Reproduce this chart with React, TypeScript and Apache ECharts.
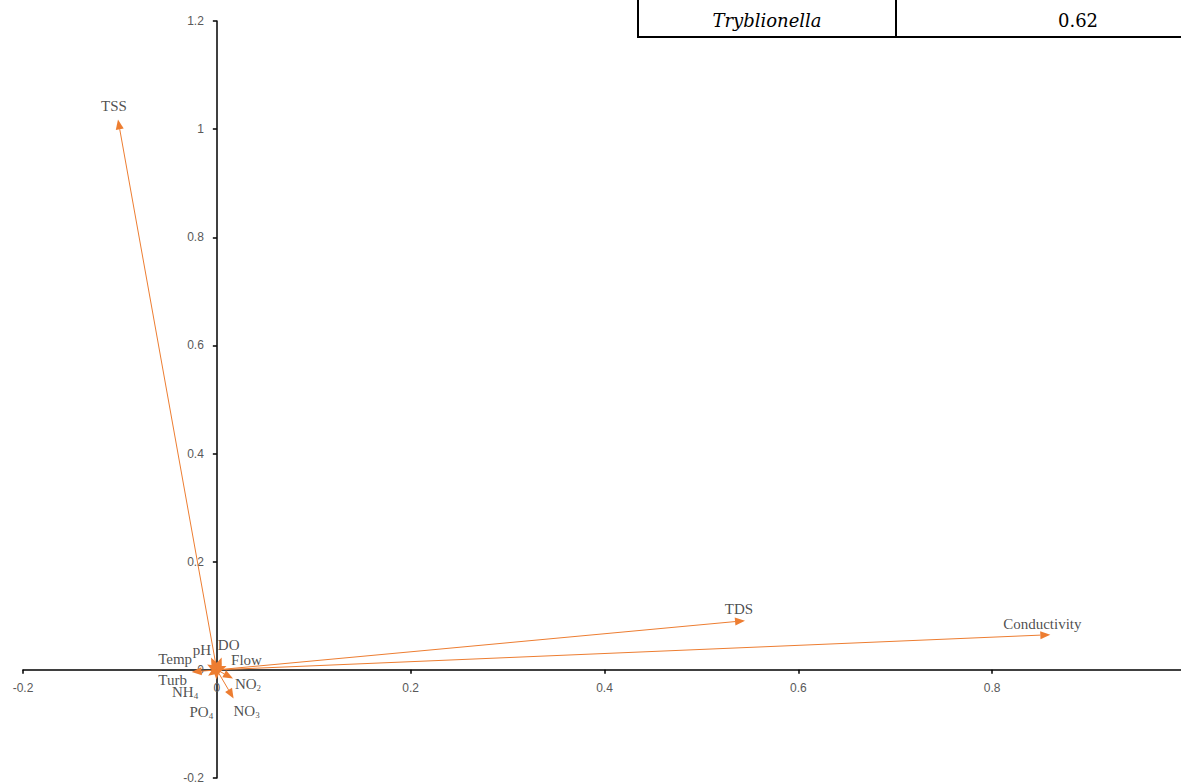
import React, { useEffect, useRef } from 'react';
import * as echarts from 'echarts';

// Vector (loading) data
const variables = ['TSS', 'TDS', 'Conductivity', 'Temp', 'pH', 'DO', 'Flow', 'NO2', 'NO3', 'Turb', 'NH4', 'PO4'];
const xValues = [-0.102, 0.545, 0.86, -0.01, -0.006, 0.005, 0.01, 0.0167, 0.0173, -0.026, -0.009, -0.0005];
const yValues = [1.018, 0.091, 0.065, 0.01, 0.023, 0.023, 0.007, -0.016, -0.053, -0.004, -0.011, -0.018];

// Axis settings
const xMin = -0.2;
const xMax = 1.0;
const yMin = -0.2;
const yMax = 1.2;
const tickStep = 0.2;

// Table in the top-right corner
const tableGenus = 'Tryblionella';
const tableValue = '0.62';

// Label display (rich text for subscripts) and pixel offsets (style only)
const labelTexts = [
  '{n|TSS}', '{n|TDS}', '{n|Conductivity}', '{n|Temp}', '{n|pH}', '{n|DO}', '{n|Flow}',
  '{n|NO}{s|2}', '{n|NO}{s|3}', '{n|Turb}', '{n|NH}{s|4}', '{n|PO}{s|4}',
];
const labelOffsets: number[][] = [
  [-4, -13], [-6, -12], [-8, -11], [-32, -5], [-9, -7], [7, -12], [20, -6],
  [15, 5], [13, 12], [-19, 8], [-23, 16], [-15, 32],
];

const ORANGE = '#ED7D31';
const fmt = (v: number) => String(Math.round(v * 10) / 10);

export default function App() {
  const ref = useRef<HTMLDivElement>(null);
  useEffect(() => {
    if (!ref.current) return;
    const chart = echarts.init(ref.current, null, { renderer: 'svg' });
    const vectors = variables.map((_, i) => [xValues[i], yValues[i]]);
    const axisCommon = {
      type: 'value' as const,
      interval: tickStep,
      splitLine: { show: false },
      axisLine: { show: true, onZero: false, lineStyle: { color: '#000', width: 1.5 } },
      axisTick: { show: true, inside: false, length: 4, lineStyle: { color: '#000', width: 1.5 } },
    };
    chart.setOption({
      animation: false,
      backgroundColor: '#fff',
      grid: { left: 23, right: -5, top: 21, bottom: 5, containLabel: false, outerBoundsMode: 'none' },
      xAxis: {
        ...axisCommon,
        position: 'bottom',
        min: xMin,
        max: xMax,
        axisLabel: {
          color: '#595959', fontSize: 12, fontFamily: 'Liberation Sans', margin: 12, formatter: fmt,
          showMaxLabel: false,
        },
      },
      yAxis: {
        ...axisCommon,
        position: 'left',
        min: yMin,
        max: yMax,
        axisLabel: { color: '#595959', fontSize: 12, fontFamily: 'Liberation Sans', margin: 13, formatter: fmt },
      },
      series: [
        {
          type: 'custom',
          clip: false,
          data: vectors,
          encode: { x: 0, y: 1 },
          renderItem: (_params: any, api: any) => {
            const p0 = api.coord([0, 0]);
            const p1 = api.coord([api.value(0), api.value(1)]);
            const dx = p1[0] - p0[0];
            const dy = p1[1] - p0[1];
            const len = Math.hypot(dx, dy) || 1;
            const ux = dx / len;
            const uy = dy / len;
            const L = 10;
            const W = 4;
            const bx = p1[0] - ux * L;
            const by = p1[1] - uy * L;
            const nx = -uy;
            const ny = ux;
            return {
              type: 'group',
              children: [
                {
                  type: 'line',
                  shape: { x1: p0[0], y1: p0[1], x2: bx, y2: by },
                  style: { stroke: ORANGE, lineWidth: 1 },
                },
                {
                  type: 'polygon',
                  shape: { points: [[p1[0], p1[1]], [bx + nx * W, by + ny * W], [bx - nx * W, by - ny * W]] },
                  style: { fill: ORANGE },
                },
              ],
            };
          },
        },
        {
          type: 'scatter',
          symbolSize: 1,
          itemStyle: { color: 'rgba(0,0,0,0)' },
          z: 5,
          data: vectors.map((v, i) => ({ value: v, label: { offset: labelOffsets[i] } })),
          label: {
            show: true,
            position: 'inside',
            formatter: (p: any) => labelTexts[p.dataIndex],
            rich: {
              n: { fontFamily: 'Liberation Serif', fontSize: 15, color: '#222', lineHeight: 18 },
              s: { fontFamily: 'Liberation Serif', fontSize: 9, color: '#222', lineHeight: 3, verticalAlign: 'bottom' },
            },
          },
        },
      ],
      graphic: [
        { type: 'line', shape: { x1: 638, y1: 0, x2: 638, y2: 38 }, style: { stroke: '#000', lineWidth: 2 } },
        { type: 'line', shape: { x1: 896, y1: 0, x2: 896, y2: 38 }, style: { stroke: '#000', lineWidth: 2 } },
        { type: 'line', shape: { x1: 637, y1: 37, x2: 1181, y2: 37 }, style: { stroke: '#000', lineWidth: 2 } },
        {
          type: 'text',
          x: 767,
          y: 20,
          style: {
            text: tableGenus,
            fontFamily: 'DejaVu Serif',
            fontStyle: 'italic',
            fontSize: 18,
            fill: '#000',
            align: 'center',
            verticalAlign: 'middle',
          },
        },
        {
          type: 'text',
          x: 1078,
          y: 20,
          style: {
            text: tableValue,
            fontFamily: 'DejaVu Serif',
            fontSize: 18,
            fill: '#000',
            align: 'center',
            verticalAlign: 'middle',
          },
        },
      ],
    });
    // Place both axes (line, ticks, labels) through the origin, as in the reference
    const origin = chart.convertToPixel({ gridIndex: 0 }, [0, 0]) as number[];
    const gridComp: any = (chart as any).getModel().getComponent('grid', 0);
    const rect = gridComp.coordinateSystem.getRect();
    chart.setOption({
      xAxis: { offset: origin[1] - (rect.y + rect.height) },
      yAxis: { offset: rect.x - origin[0] },
    });
    return () => chart.dispose();
  }, []);
  return (
    <div
      ref={ref}
      style={{ position: 'fixed', left: 0, top: 0, width: 1181, height: 783, background: '#fff' }}
    />
  );
}
